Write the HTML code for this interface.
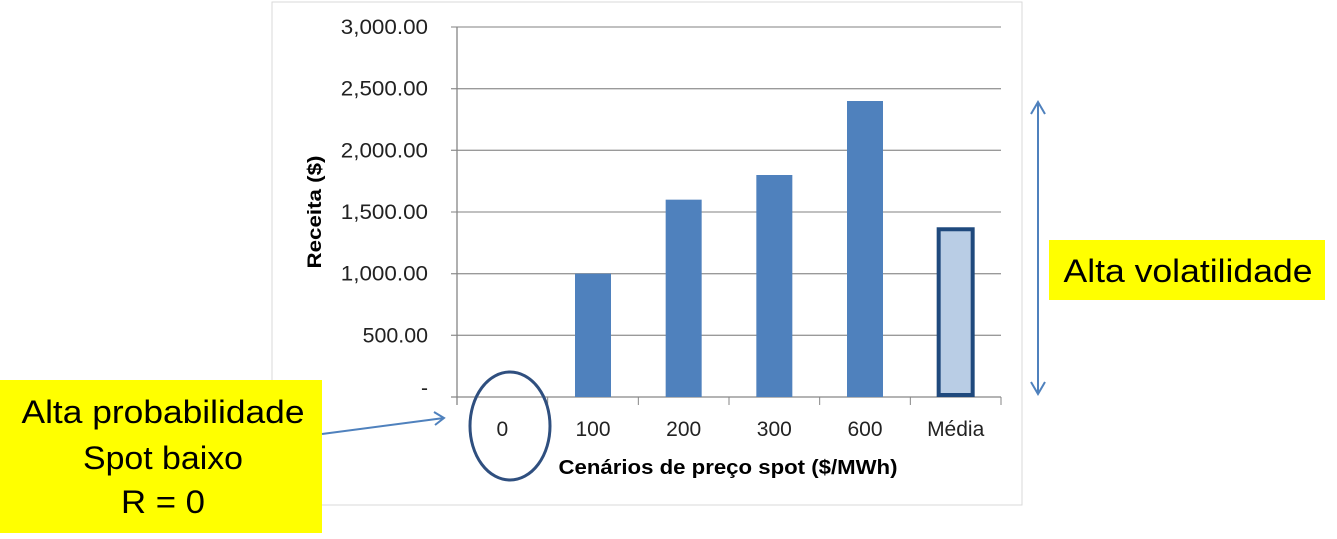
<!DOCTYPE html>
<html><head><meta charset="utf-8"><style>
body{margin:0;background:#fff;width:1337px;height:534px;overflow:hidden;font-family:"Liberation Sans",sans-serif}
</style></head><body>
<svg width="1337" height="534">
<rect x="272" y="2" width="750" height="503" fill="#fff" stroke="#d9d9d9"/>
<g id="grid"></g><g id="bars"></g><g id="labels"></g>
<text transform="translate(321,212) rotate(-90)" text-anchor="middle" font-size="19" font-weight="bold" textLength="113" lengthAdjust="spacingAndGlyphs">Receita ($)</text>
<text x="728" y="474" text-anchor="middle" font-size="20" font-weight="bold" textLength="339" lengthAdjust="spacingAndGlyphs">Cenários de preço spot ($/MWh)</text>
<ellipse cx="510" cy="426" rx="40" ry="54" fill="none" stroke="#2f4f7f" stroke-width="3"/>
<rect x="0" y="380" width="322" height="153" fill="#ffff00"/>
<text x="163" y="423" text-anchor="middle" font-size="32" textLength="283" lengthAdjust="spacingAndGlyphs">Alta probabilidade</text>
<text x="163" y="469" text-anchor="middle" font-size="32" textLength="160" lengthAdjust="spacingAndGlyphs">Spot baixo</text>
<text x="163" y="513" text-anchor="middle" font-size="32" textLength="84" lengthAdjust="spacingAndGlyphs">R = 0</text>
<line x1="322" y1="434" x2="444" y2="418" stroke="#4f81bd" stroke-width="2"/>
<polyline points="434,412 444,418 435,425" fill="none" stroke="#4f81bd" stroke-width="2"/>
<rect x="1049" y="240" width="276" height="60" fill="#ffff00"/>
<text x="1188" y="282" text-anchor="middle" font-size="32" textLength="249" lengthAdjust="spacingAndGlyphs">Alta volatilidade</text>
<line x1="1038" y1="102" x2="1038" y2="394" stroke="#4f81bd" stroke-width="2"/>
<polyline points="1031,114 1038,102 1045,114" fill="none" stroke="#4f81bd" stroke-width="2"/>
<polyline points="1031,382 1038,394 1045,382" fill="none" stroke="#4f81bd" stroke-width="2"/>
</svg>
<script>
const categories=["0","100","200","300","600","Média"];
const values=[0,1000,1600,1800,2400,1360];
const ticks=[0,500,1000,1500,2000,2500,3000];
const tickLabels=["-","500.00","1,000.00","1,500.00","2,000.00","2,500.00","3,000.00"];
const x0=457,x1=1001,y0=397,yTop=27,ymax=3000;
const ns="http://www.w3.org/2000/svg";
const Y=v=>y0-(v/ymax)*(y0-yTop);
const cw=(x1-x0)/categories.length;
const X=i=>x0+cw*(i+0.5);
function mk(t,a,p){const e=document.createElementNS(ns,t);for(const k in a)e.setAttribute(k,a[k]);p.appendChild(e);return e;}
const g=document.getElementById('grid'),b=document.getElementById('bars'),l=document.getElementById('labels');
ticks.forEach((t,i)=>{
 const ln=mk('line',{x1:x0-6,x2:x1,y1:Y(t),y2:Y(t),stroke:i==0?'#868686':'#9a9a9a','stroke-width':1.3},g);
 
 
 const tx=mk('text',{x:428,y:Y(t)+(i==0?-2:7),'text-anchor':'end','font-size':21,fill:'#222'},l);
 if(i>0){tx.setAttribute('textLength',tickLabels[i].length*10.9);tx.setAttribute('lengthAdjust','spacingAndGlyphs');}
 tx.textContent=tickLabels[i];
 
 
});
const ax=mk('line',{x1:x0,x2:x0,y1:yTop,y2:y0+8,stroke:'#868686','stroke-width':1.3},g);


for(let i=0;i<=categories.length;i++){const t=mk('line',{x1:x0+cw*i,x2:x0+cw*i,y1:y0,y2:y0+8,stroke:'#868686'},g);
 
 }
const bw=36;
categories.forEach((c,i)=>{
 const last=i==categories.length-1;
 if(values[i]>0){
  const r=mk('rect',{x:X(i)-bw/2,y:Y(values[i]),width:bw,height:y0-Y(values[i]),fill:last?'#b9cde5':'#4f81bd'},b);
  if(last){r.setAttribute('stroke','#1f497d');r.setAttribute('stroke-width','4');r.setAttribute('x',X(i)-bw/2+1);r.setAttribute('width',bw-2);r.setAttribute('height',y0-Y(values[i])-2);}
  
  
 }
 const tx=mk('text',{x:X(i),y:436,'text-anchor':'middle','font-size':21,fill:'#222'},l);
 tx.textContent=c;
 
 
});
</script>
</body></html>
